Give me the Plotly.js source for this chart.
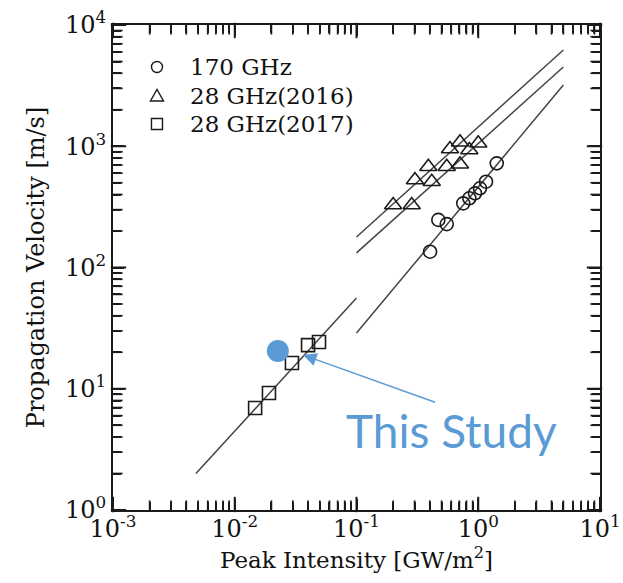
<!DOCTYPE html>
<html>
<head>
<meta charset="utf-8">
<script src="https://cdn.plot.ly/plotly-3.0.1.min.js"></script>
<style>
  html, body { margin: 0; padding: 0; background: #fff; }
  #chart { width: 623px; height: 583px; }
</style>
</head>
<body>
<div id="chart"></div>
<script>
// 170 GHz measurements
const circX = [0.402, 0.470, 0.551, 0.753, 0.845, 0.940, 1.033, 1.158, 1.419];
const circY = [135, 247, 228, 338, 372, 409, 450, 510, 723];

// 28 GHz (2016) measurements
const triX = [0.200, 0.284, 0.302, 0.415, 0.389, 0.551, 0.708, 0.586, 0.708, 0.845, 1.0];
const triY = [328, 328, 527, 510, 678, 678, 710, 949, 1078, 931, 1058];

// 28 GHz (2017) measurements
const sqX = [0.0147, 0.0191, 0.0295, 0.040, 0.0492];
const sqY = [6.93, 9.23, 16.3, 22.9, 24.3];

// present result
const studyX = [0.0226];
const studyY = [20.5];

// power-law fit lines (end points)
const fitSqX = [0.0048, 0.1],  fitSqY = [2.0, 56];
const fitCircX = [0.1, 5],     fitCircY = [28.8, 3200];
const fitTriAX = [0.1, 5],     fitTriAY = [178.6, 6220];
const fitTriBX = [0.1, 5],     fitTriBY = [132, 4505];

const seriesNames = ['170 GHz', '28 GHz(2016)', '28 GHz(2017)'];
const studyLabel = 'This Study';
const arrowTip = [0.0364, 19.0];

const xDecades = [0.001, 0.01, 0.1, 1, 10];
const xDecadeText = ['10<sup>-3</sup>', '10<sup>-2</sup>', '10<sup>-1</sup>', '10<sup>0</sup>', '10<sup>1</sup>'];
const yDecades = [1, 10, 100, 1000, 10000];
const yDecadeText = ['10<sup>0</sup>', '10<sup>1</sup>', '10<sup>2</sup>', '10<sup>3</sup>', '10<sup>4</sup>'];

const ink = '#1a1a1a';
const blue = '#5b9bd5';
const serif = '"DejaVu Serif", serif';

// plot box geometry (px) used to size the inward tick marks
const margin = { l: 113, r: 23, t: 25, b: 73 };
const plotW = 623 - margin.l - margin.r, plotH = 583 - margin.t - margin.b;
const xRange = [-3, 1], yRange = [0, 4];
const pxPerDecX = plotW / (xRange[1] - xRange[0]);
const pxPerDecY = plotH / (yRange[1] - yRange[0]);

function tickPositions(decades, major) {
  const out = [];
  decades.forEach((d, i) => {
    if (major) out.push(d);
    else if (i < decades.length - 1) for (let k = 2; k <= 9; k++) out.push(k * d);
  });
  return out;
}

// inward tick marks on all four sides: short bar markers centred half a tick inside the frame
function tickMarks(major, len, width) {
  const half = len / 2;
  const xLo = Math.pow(10, xRange[0]), xHi = Math.pow(10, xRange[1]);
  const yLo = Math.pow(10, yRange[0]), yHi = Math.pow(10, yRange[1]);
  const offY = Math.pow(10, half / pxPerDecY), offX = Math.pow(10, half / pxPerDecX);
  const xs = tickPositions(xDecades, major), ys = tickPositions(yDecades, major);
  const horiz = { x: [], y: [] }, vert = { x: [], y: [] };
  xs.forEach(v => { vert.x.push(v, v); vert.y.push(yLo * offY, yHi / offY); });
  ys.forEach(v => { horiz.x.push(xLo * offX, xHi / offX); horiz.y.push(v, v); });
  const base = { mode: 'markers', showlegend: false, hoverinfo: 'skip', cliponaxis: false };
  return [
    Object.assign({}, base, { x: vert.x, y: vert.y,
      marker: { symbol: 'line-ns-open', size: len, color: ink, line: { width: width, color: ink } } }),
    Object.assign({}, base, { x: horiz.x, y: horiz.y,
      marker: { symbol: 'line-ew-open', size: len, color: ink, line: { width: width, color: ink } } })
  ];
}

function fitLine(x, y) {
  return { x: x, y: y, mode: 'lines', showlegend: false, hoverinfo: 'skip',
           line: { color: '#444', width: 1.5 } };
}
function openMarkers(x, y, name, symbol, size) {
  return { x: x, y: y, name: name, mode: 'markers', showlegend: false,
           marker: { symbol: symbol, size: size, color: ink, line: { width: 1.6 } } };
}

const traces = [].concat(
  tickMarks(true, 11, 2),
  tickMarks(false, 8, 1.7),
  [
    fitLine(fitSqX, fitSqY),
    fitLine(fitCircX, fitCircY),
    fitLine(fitTriAX, fitTriAY),
    fitLine(fitTriBX, fitTriBY),
    openMarkers(circX, circY, seriesNames[0], 'circle-open', 13),
    openMarkers(triX, triY, seriesNames[1], 'triangle-up-open', 15),
    openMarkers(sqX, sqY, seriesNames[2], 'square-open', 13),
    { x: studyX, y: studyY, name: studyLabel, mode: 'markers', showlegend: false,
      marker: { symbol: 'circle', size: 22, color: blue } }
  ]
);

// hand-set legend keys (paper coordinates, pixel-sized symbols)
const legX = 0.0903, legTextX = 0.154;
const legRows = [0.9134, 0.8536, 0.7959];
const keyLine = { color: ink, width: 1.4 };
const legendKeys = [
  { type: 'circle', xref: 'paper', yref: 'paper', xsizemode: 'pixel', ysizemode: 'pixel',
    xanchor: legX, yanchor: legRows[0], x0: -5.5, x1: 5.5, y0: -5.5, y1: 5.5,
    line: keyLine, fillcolor: 'rgba(0,0,0,0)' },
  { type: 'path', xref: 'paper', yref: 'paper', xsizemode: 'pixel', ysizemode: 'pixel',
    xanchor: legX, yanchor: legRows[1], path: 'M-6.5,-5 L6.5,-5 L0,6.5 Z',
    line: keyLine, fillcolor: 'rgba(0,0,0,0)' },
  { type: 'rect', xref: 'paper', yref: 'paper', xsizemode: 'pixel', ysizemode: 'pixel',
    xanchor: legX, yanchor: legRows[2], x0: -5.5, x1: 5.5, y0: -5.5, y1: 5.5,
    line: keyLine, fillcolor: 'rgba(0,0,0,0)' }
];

const annotations = seriesNames.map((n, i) => ({
  xref: 'paper', yref: 'paper', x: legTextX, y: legRows[i], xanchor: 'left', yanchor: 'middle',
  text: n, showarrow: false, font: { family: serif, size: 23, color: '#111' }
}));
annotations.push({
  xref: 'x', yref: 'y', x: Math.log10(arrowTip[0]), y: Math.log10(arrowTip[1]),
  text: ' ', showarrow: true, ax: 134, ay: 48, arrowhead: 2, arrowsize: 1.8,
  arrowwidth: 1.5, arrowcolor: blue, font: { size: 4 }
});
annotations.push({
  xref: 'paper', yref: 'paper', x: 0.696, y: 0.163, xanchor: 'center', yanchor: 'middle',
  text: studyLabel, showarrow: false, font: { family: 'Lato, "Open Sans", sans-serif', size: 46, color: blue }
});

const minorTicks = { tickmode: 'array', ticks: 'inside', ticklen: 8, tickwidth: 1.7, tickcolor: ink, showgrid: false };

const layout = {
  width: 623, height: 583,
  margin: margin,
  paper_bgcolor: '#fff', plot_bgcolor: '#fff',
  showlegend: false,
  xaxis: {
    type: 'log', range: xRange, showline: true, linecolor: ink, linewidth: 2, mirror: 'allticks',
    ticks: 'inside', ticklen: 11, tickwidth: 2, tickcolor: ink,
    showgrid: false, zeroline: false, ticklabelstandoff: -4,
    tickmode: 'array', tickvals: xDecades, ticktext: xDecadeText,
    minor: Object.assign({ tickvals: tickPositions(xDecades, false) }, minorTicks),
    tickfont: { family: serif, size: 24, color: '#111' },
    title: { text: 'Peak Intensity [GW/m<sup>2</sup>]', font: { family: serif, size: 23, color: '#111' }, standoff: 10 }
  },
  yaxis: {
    type: 'log', range: yRange, showline: true, linecolor: ink, linewidth: 2, mirror: 'allticks',
    ticks: 'inside', ticklen: 11, tickwidth: 2, tickcolor: ink,
    showgrid: false, zeroline: false,
    tickmode: 'array', tickvals: yDecades, ticktext: yDecadeText,
    minor: Object.assign({ tickvals: tickPositions(yDecades, false) }, minorTicks),
    tickfont: { family: serif, size: 24, color: '#111' },
    title: { text: 'Propagation Velocity [m/s]', font: { family: serif, size: 24, color: '#111' }, standoff: 14 }
  },
  shapes: legendKeys,
  annotations: annotations
};

Plotly.newPlot('chart', traces, layout, { displayModeBar: false });
</script>
</body>
</html>
